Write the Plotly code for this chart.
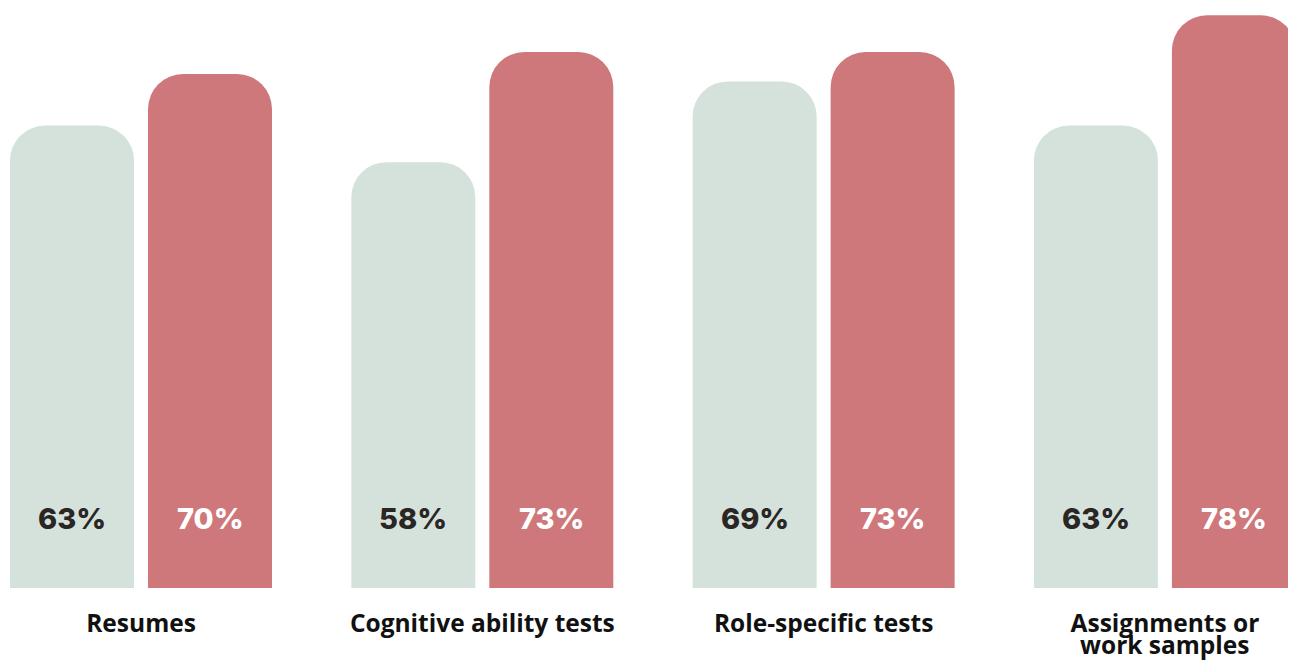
import plotly.graph_objects as go

categories = ["Resumes", "Cognitive ability tests", "Role-specific tests", "Assignments or work samples"]
tick_lines = [["Resumes"], ["Cognitive ability tests"], ["Role-specific tests"], ["Assignments or", "work samples"]]
series_a = [63, 58, 69, 63]
series_b = [70, 73, 73, 78]
labels_a = ["63%", "58%", "69%", "63%"]
labels_b = ["70%", "73%", "73%", "78%"]

GREEN = "#d5e2dc"
RED = "#cf787b"
DARK = "#2a2624"
LABEL_COLOR = "#111111"

fig = go.Figure()
fig.add_trace(go.Bar(x=categories, y=series_a, marker=dict(color=GREEN, line=dict(width=0)),
                     hoverinfo="skip", showlegend=False))
fig.add_trace(go.Bar(x=categories, y=series_b, marker=dict(color=RED, line=dict(width=0)),
                     hoverinfo="skip", showlegend=False))

LABEL_Y = 9.4
SHIFT = 69
VAL_FONT = dict(family="Inter", size=29, weight=800)
CAT_FONT = dict(family="Open Sans", size=24.5, color=LABEL_COLOR, weight="bold")
for i, c in enumerate(categories):
    fig.add_annotation(x=c, y=LABEL_Y, xref="x", yref="y", text=labels_a[i], showarrow=False,
                       xshift=-SHIFT, font=dict(color=DARK, **VAL_FONT))
    fig.add_annotation(x=c, y=LABEL_Y, xref="x", yref="y", text=labels_b[i], showarrow=False,
                       xshift=SHIFT, font=dict(color="white", **VAL_FONT))
    # extra lines of category labels (tight line spacing)
    for k, line in enumerate(tick_lines[i][1:], start=1):
        fig.add_annotation(x=c, y=0, xref="x", yref="y", text=line, showarrow=False,
                           yshift=-34 - 22 * k, font=CAT_FONT)

fig.update_layout(
    width=1288, height=654,
    margin=dict(l=0, r=0, t=0, b=74),
    paper_bgcolor="white", plot_bgcolor="white",
    barmode="group", bargap=0.1914, bargroupgap=0.1014,
    barcornerradius=35,
    xaxis=dict(range=[-0.3897, 3.384], showgrid=False, zeroline=False, showline=False,
               ticks="", tickmode="array", tickvals=categories,
               ticktext=[l[0] for l in tick_lines],
               tickfont=CAT_FONT,
               ticklabelstandoff=18),
    yaxis=dict(range=[0, 79], visible=False, showgrid=False, zeroline=False),
)

fig.write_html("out.html")
